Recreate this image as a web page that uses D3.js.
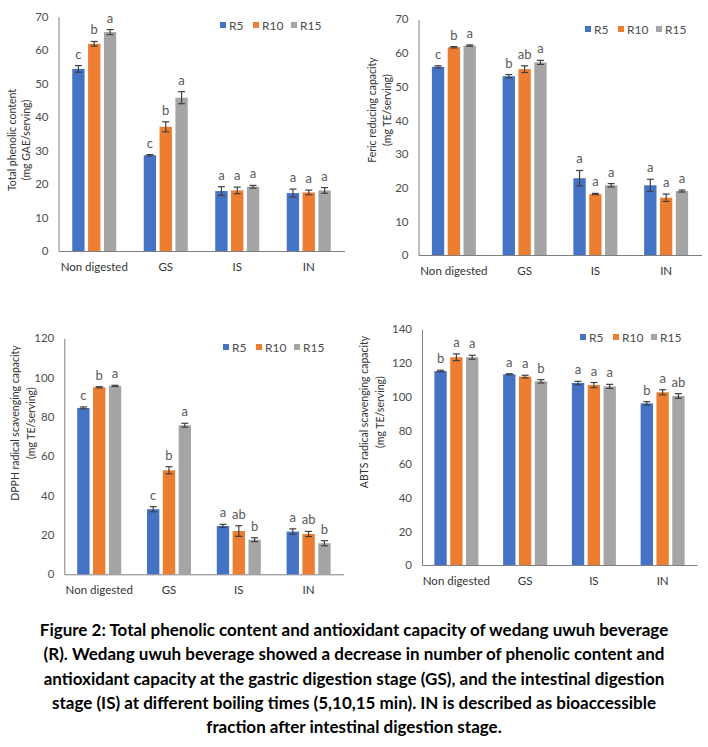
<!DOCTYPE html>
<html>
<head>
<meta charset="utf-8">
<script src="https://cdn.jsdelivr.net/npm/d3@7"></script>
<style>
  body { margin: 0; background: #fff; }
  svg { display: block; font-family: Lato, "Open Sans", sans-serif; }
</style>
</head>
<body>
<svg id="canvas" width="708" height="747"></svg>
<script>
// data
const categories = ['Non digested', 'GS', 'IS', 'IN'];
const series = ['R5', 'R10', 'R15'];
const colors = ['#4472C4', '#ED7D31', '#A5A5A5'];

// Total phenolic content (mg GAE/serving), rows = R5, R10, R15
const tpcMean = [[54.4, 28.6, 17.9, 17.3], [61.9, 37.1, 18.1, 17.5], [65.4, 45.8, 19.2, 18.1]];
const tpcErr  = [[1.0, 0.2, 1.3, 1.2], [0.7, 1.5, 1.0, 0.7], [0.75, 1.8, 0.4, 0.85]];
const tpcSig  = [['c', 'c', 'a', 'a'], ['b', 'b', 'a', 'a'], ['a', 'a', 'a', 'a']];

// Feric reducing capacity (mg TE/serving)
const frapMean = [[55.9, 53.1, 22.8, 20.7], [61.7, 55.2, 18.1, 17.0], [62.2, 57.2, 20.7, 19.0]];
const frapErr  = [[0.3, 0.5, 2.3, 1.8], [0.2, 1.0, 0.2, 1.1], [0.2, 0.6, 0.5, 0.3]];
const frapSig  = [['c', 'b', 'a', 'a'], ['b', 'ab', 'a', 'a'], ['a', 'a', 'a', 'a']];

// DPPH radical scavenging capacity (mg TE/serving)
const dpphMean = [[84.6, 33.1, 24.6, 21.7], [95.1, 52.9, 22.0, 20.5], [95.8, 75.8, 17.6, 15.8]];
const dpphErr  = [[0.5, 1.3, 0.8, 1.4], [0.3, 1.8, 2.7, 1.3], [0.3, 1.0, 1.0, 1.3]];
const dpphSig  = [['c', 'c', 'a', 'a'], ['b', 'b', 'ab', 'ab'], ['a', 'a', 'b', 'b']];

// ABTS radical scavenging capacity (mg TE/serving)
const abtsMean = [[115.2, 113.3, 108.1, 96.0], [123.4, 111.9, 106.9, 102.6], [123.4, 109.1, 106.1, 100.4]];
const abtsErr  = [[0.5, 0.3, 1.0, 1.0], [2.0, 0.8, 1.5, 1.5], [1.2, 1.0, 1.2, 1.4]];
const abtsSig  = [['b', 'a', 'a', 'b'], ['a', 'a', 'a', 'a'], ['a', 'b', 'a', 'ab']];

const caption = [
  'Figure 2: Total phenolic content and antioxidant capacity of wedang uwuh beverage',
  '(R). Wedang uwuh beverage showed a decrease in number of phenolic content and',
  'antioxidant capacity at the gastric digestion stage (GS), and the intestinal digestion',
  'stage (IS) at different boiling times (5,10,15 min). IN is described as bioaccessible',
  'fraction after intestinal digestion stage.'
];

const svg = d3.select('#canvas');
svg.append('rect').attr('width', 708).attr('height', 747).attr('fill', '#fff');

const panels = [
  { mean: tpcMean, err: tpcErr, sig: tpcSig, yMax: 70, step: 10,
    title: ['Total phenolic content', '(mg GAE/serving)'],
    x0: 58.5, x1: 344.5, yTop: 16.7, yBot: 251, tx: [12, 25.5], ty: 140, lx: 220, ly: 25 },
  { mean: frapMean, err: frapErr, sig: frapSig, yMax: 70, step: 10,
    title: ['Feric reducing capacity', '(mg TE/serving)'],
    x0: 418.5, x1: 701.5, yTop: 19.3, yBot: 255, tx: [372, 387], ty: 110, lx: 585, ly: 29 },
  { mean: dpphMean, err: dpphErr, sig: dpphSig, yMax: 120, step: 20,
    title: ['DPPH radical scavenging capacity', '(mg TE/serving)'],
    x0: 64.3, x1: 343.5, yTop: 338.3, yBot: 574.3, tx: [15, 30.5], ty: 423, lx: 223, ly: 347 },
  { mean: abtsMean, err: abtsErr, sig: abtsSig, yMax: 140, step: 20,
    title: ['ABTS radical scavenging capacity', '(mg TE/serving)'],
    x0: 422, x1: 697, yTop: 329.3, yBot: 565, tx: [364, 380], ty: 412, lx: 580, ly: 337 }
];

let drawPanel = (p) => {
  const g = svg.append('g');

  const xScale = d3.scaleBand().domain(categories).range([p.x0, p.x1]);
  const inner = d3.scaleBand().domain(series).range([-22, 22]).paddingInner(0.22);
  const yScale = d3.scaleLinear().domain([0, p.yMax]).range([p.yBot, p.yTop]);

  // y axis
  const yAxis = d3.axisLeft(yScale).tickValues(d3.range(0, p.yMax + 1, p.step)).tickSize(0).tickPadding(10);
  const ya = g.append('g').attr('transform', 'translate(' + p.x0 + ',0)').call(yAxis);
  ya.select('.domain').attr('stroke', '#7f7f7f');
  ya.selectAll('text').attr('font-size', 11.5).attr('fill', '#4d4d4d').attr('font-family', 'Lato');

  // x axis
  const xAxis = d3.axisBottom(xScale).tickSize(0).tickPadding(12);
  const xa = g.append('g').attr('transform', 'translate(0,' + p.yBot + ')').call(xAxis);
  xa.select('.domain').attr('stroke', '#7f7f7f');
  xa.selectAll('text').attr('font-size', 11.5).attr('fill', '#333').attr('font-family', 'Lato');

  // bars
  series.forEach((s, si) => {
    const rows = categories.map((c, ci) => ({
      c: c, v: p.mean[si][ci], e: p.err[si][ci], l: p.sig[si][ci]
    }));
    const cx = d => xScale(d.c) + xScale.bandwidth() / 2 + inner(s) + inner.bandwidth() / 2;

    g.selectAll('.bar-' + s).data(rows).enter().append('rect')
      .attr('x', d => cx(d) - inner.bandwidth() / 2)
      .attr('y', d => yScale(d.v))
      .attr('width', inner.bandwidth())
      .attr('height', d => yScale(0) - yScale(d.v))
      .attr('fill', colors[si]);

    // error bars
    const eb = g.selectAll('.err-' + s).data(rows).enter().append('g')
      .attr('stroke', '#404040').attr('stroke-width', 1.2);
    eb.append('line').attr('x1', cx).attr('x2', cx)
      .attr('y1', d => yScale(d.v + d.e)).attr('y2', d => yScale(d.v - d.e));
    eb.append('line').attr('x1', d => cx(d) - 3.5).attr('x2', d => cx(d) + 3.5)
      .attr('y1', d => yScale(d.v + d.e)).attr('y2', d => yScale(d.v + d.e));
    eb.append('line').attr('x1', d => cx(d) - 3.5).attr('x2', d => cx(d) + 3.5)
      .attr('y1', d => yScale(d.v - d.e)).attr('y2', d => yScale(d.v - d.e));

    // significance letters
    g.selectAll('.sig-' + s).data(rows).enter().append('text')
      .attr('x', cx)
      .attr('y', d => yScale(d.v + d.e) - 7)
      .attr('text-anchor', 'middle')
      .attr('font-size', 13)
      .attr('fill', '#595959')
      .text(d => d.l);
  });

  // y title
  p.title.forEach((t, i) => {
    g.append('text')
      .attr('transform', 'translate(' + (p.tx[i] + 4) + ',' + p.ty + ') rotate(-90)')
      .attr('text-anchor', 'middle')
      .attr('font-size', 10.5)
      .attr('fill', '#333')
      .text(t);
  });

  // legend
  const offs = [0, 33, 71];
  series.forEach((s, si) => {
    g.append('rect').attr('x', p.lx + offs[si]).attr('y', p.ly - 3)
      .attr('width', 6).attr('height', 6).attr('fill', colors[si]);
    g.append('text').attr('x', p.lx + offs[si] + 9).attr('y', p.ly + 4.5)
      .attr('font-size', 12).attr('fill', '#4d4d4d').text(s);
  });
};

panels.forEach(drawPanel);

// caption
svg.selectAll('.cap').data(caption).enter().append('text')
  .attr('x', 354)
  .attr('y', (d, i) => 636 + i * 24.3)
  .attr('text-anchor', 'middle')
  .attr('font-size', 17)
  .attr('font-weight', 'bold')
  .attr('fill', '#000')
  .text(d => d);
</script>
</body>
</html>
